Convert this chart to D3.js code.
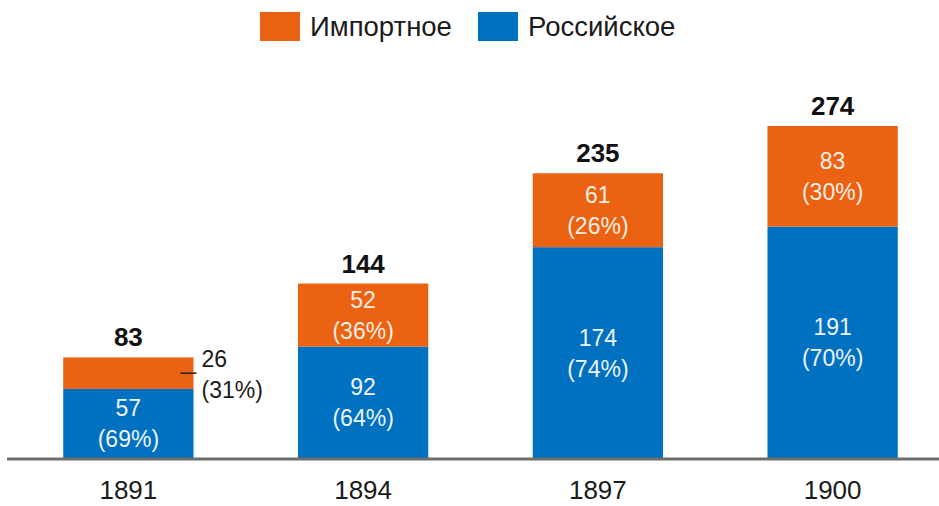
<!DOCTYPE html>
<html>
<head>
<meta charset="utf-8">
<script src="https://cdn.jsdelivr.net/npm/d3@7"></script>
<style>
  body { margin: 0; background: #fff; }
  svg { display: block; font-family: "Liberation Sans", Arial, sans-serif; }
</style>
</head>
<body>
<script>
// ---------------- data ----------------
var years = ["1891", "1894", "1897", "1900"];
var russian = [57, 92, 174, 191];
var imported = [26, 52, 61, 83];
var totals = [83, 144, 235, 274];
var russianPct = [69, 64, 74, 70];
var importedPct = [31, 36, 26, 30];
var seriesNames = ["Импортное", "Российское"];

var width = 939,
  height = 506;

var colors = { imported: "#EA6212", russian: "#0070C0" };

var svg = d3
  .select("body")
  .append("svg")
  .attr("width", width)
  .attr("height", height);

var x = d3
  .scaleBand()
  .domain(years)
  .range([11, 950])
  .paddingInner(0.445)
  .paddingOuter(0.2225);

var y = d3.scaleLinear().domain([0, 274]).range([458, 126]);

var rows = years.map(function (yr, i) {
  return {
    year: yr,
    russian: russian[i],
    imported: imported[i],
    total: totals[i],
    rPct: russianPct[i],
    iPct: importedPct[i],
  };
});

// ---------------- bars ----------------
var g = svg.append("g");

g.selectAll(".bar-r")
  .data(rows)
  .enter()
  .append("rect")
  .attr("x", function (d) { return x(d.year); })
  .attr("width", x.bandwidth())
  .attr("y", function (d) { return y(d.russian); })
  .attr("height", function (d) { return y(0) - y(d.russian); })
  .style("fill", colors.russian);

g.selectAll(".bar-i")
  .data(rows)
  .enter()
  .append("rect")
  .attr("x", function (d) { return x(d.year); })
  .attr("width", x.bandwidth())
  .attr("y", function (d) { return y(d.russian + d.imported); })
  .attr("height", function (d) { return y(d.russian) - y(d.russian + d.imported); })
  .style("fill", colors.imported);

// baseline
svg.append("line")
  .attr("x1", 7)
  .attr("x2", width)
  .attr("y1", y(0) + 1)
  .attr("y2", y(0) + 1)
  .style("stroke", "#6e6e6e")
  .style("stroke-width", 3);

// x axis labels
var xAxis = svg.append("g")
  .attr("transform", "translate(0," + y(0) + ")")
  .call(d3.axisBottom(x).tickSize(0).tickPadding(23));
xAxis.select(".domain").remove();
xAxis.selectAll("text")
  .style("font-size", "26px")
  .style("font-family", "'Liberation Sans', Arial, sans-serif")
  .style("fill", "#1a1a1a");

// ---------------- labels ----------------
function twoLine(sel, val, pct, cx, cy, anchor, color) {
  var t = sel.append("text")
    .attr("text-anchor", anchor)
    .style("font-size", "23px")
    .style("fill", color);
  t.append("tspan").attr("x", cx).attr("y", cy - 7).text(val);
  t.append("tspan").attr("x", cx).attr("y", cy + 24).text("(" + pct + "%)");
}

rows.forEach(function (d, i) {
  var cx = x(d.year) + x.bandwidth() / 2;
  var rc = (y(0) + y(d.russian)) / 2;
  twoLine(g, d.russian, d.rPct, cx, rc, "middle", "#eef4fb");

  var ic = (y(d.russian) + y(d.russian + d.imported)) / 2;
  if (i === 0) {
    // small segment: label outside the bar
    var xr = x(d.year) + x.bandwidth();
    g.append("line")
      .attr("x1", xr - 13)
      .attr("x2", xr + 3)
      .attr("y1", ic)
      .attr("y2", ic)
      .style("stroke", "#222")
      .style("stroke-width", 1.5);
    twoLine(g, d.imported, d.iPct, xr + 8, ic + 1, "start", "#1a1a1a");
  } else {
    twoLine(g, d.imported, d.iPct, cx, ic, "middle", "#fbeee4");
  }

  g.append("text")
    .attr("x", cx)
    .attr("y", y(d.total) - 11)
    .attr("text-anchor", "middle")
    .style("font-size", "26px")
    .style("font-weight", "bold")
    .style("fill", "#111")
    .text(d.total);
});

// ---------------- legend ----------------
var legend = svg.append("g");
var legendX = [260, 478];
var legendColors = [colors.imported, colors.russian];
seriesNames.forEach(function (name, i) {
  legend.append("rect")
    .attr("x", legendX[i])
    .attr("y", 12)
    .attr("width", 40)
    .attr("height", 29)
    .style("fill", legendColors[i]);
  legend.append("text")
    .attr("x", legendX[i] + 50)
    .attr("y", 36)
    .style("font-size", "27.5px")
    .style("fill", "#1a1a1a")
    .text(name);
});
</script>
</body>
</html>
